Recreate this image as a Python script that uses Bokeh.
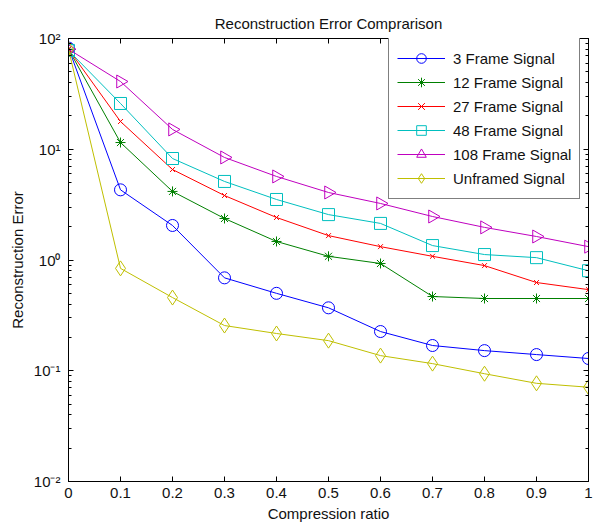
import numpy as np
from bokeh.plotting import figure
from bokeh.models import (LogAxis, LinearAxis, FixedTicker, CustomJSTickFormatter,
                          Legend, LegendItem, Range1d)
from bokeh.embed import file_html
from bokeh.resources import INLINE

ratio = [0.0, 0.1, 0.2, 0.3, 0.4, 0.5, 0.6, 0.7, 0.8, 0.9, 1.0]
frame3 = [82, 4.3, 2.05, 0.69, 0.50, 0.37, 0.226, 0.169, 0.152, 0.140, 0.129]
frame12 = [80, 11.5, 4.16, 2.37, 1.47, 1.08, 0.93, 0.468, 0.449, 0.449, 0.449]
frame27 = [80, 17.8, 6.56, 3.82, 2.42, 1.66, 1.32, 1.08, 0.89, 0.626, 0.54]
frame48 = [78, 25.9, 8.25, 5.12, 3.52, 2.57, 2.14, 1.35, 1.12, 1.05, 0.80]
frame108 = [80, 40.9, 15.1, 8.43, 5.68, 4.07, 3.24, 2.47, 1.97, 1.63, 1.32]
unframed = [80, 0.84, 0.458, 0.256, 0.217, 0.187, 0.137, 0.116, 0.094, 0.077, 0.071]

labels = ["3 Frame Signal", "12 Frame Signal", "27 Frame Signal",
          "48 Frame Signal", "108 Frame Signal", "Unframed Signal"]
x_ticks = [0.0, 0.1, 0.2, 0.3, 0.4, 0.5, 0.6, 0.7, 0.8, 0.9, 1.0]
y_ticks = [0.01, 0.1, 1, 10, 100]
title_text = "Reconstruction Error Comprarison"

FONT = "Liberation Sans"

p = figure(width=596, height=525, y_axis_type="log", output_backend="svg",
           toolbar_location=None, x_range=Range1d(0, 1), y_range=Range1d(0.01, 100),
           title=title_text,
           min_border_left=68, min_border_right=8, min_border_top=38, min_border_bottom=44)
p.grid.visible = False
p.background_fill_color = "white"
p.outline_line_color = "black"
p.outline_line_width = 1

p.title.text_font = FONT
p.title.text_font_size = "15px"
p.title.text_font_style = "normal"
p.title.align = "center"
p.title.vertical_align = "top"
p.title.text_color = "#111111"

minor = [m * 10.0 ** e for e in range(-2, 2) for m in range(2, 10)]
yticker = FixedTicker(ticks=y_ticks, minor_ticks=minor)
xticker = FixedTicker(ticks=x_ticks)

yfmt = CustomJSTickFormatter(code="""
const sup = {'-':'\u207b','0':'\u2070','1':'\u00b9','2':'\u00b2','3':'\u00b3'};
const e = Math.round(Math.log10(tick));
return '10' + String(e).split('').map(c => sup[c]).join('');
""")
xfmt = CustomJSTickFormatter(code="""
let s = tick.toFixed(1);
if (s.endsWith('.0')) s = s.slice(0, -2);
return s;
""")
blankfmt = CustomJSTickFormatter(code="return '';")

def style_axis(ax, show_labels):
    ax.axis_line_color = "black"
    ax.axis_line_width = 1
    ax.major_tick_in = 5
    ax.major_tick_out = 0
    ax.minor_tick_in = 3
    ax.minor_tick_out = 0
    ax.major_tick_line_color = "black"
    ax.minor_tick_line_color = "black"
    ax.major_label_text_font = FONT
    ax.major_label_text_color = "#111111"
    ax.major_label_text_font_size = "15px"
    ax.axis_label_text_font = FONT
    ax.axis_label_text_font_style = "normal"
    ax.axis_label_text_font_size = "15px"
    ax.axis_label_text_color = "#111111"
    if not show_labels:
        ax.formatter = blankfmt
        ax.major_label_standoff = 0

xa = p.xaxis[0]
xa.ticker = xticker
xa.formatter = xfmt
xa.axis_label = "Compression ratio"
style_axis(xa, True)
xa.major_label_standoff = 6
xa.axis_label_standoff = 4

ya = p.yaxis[0]
ya.ticker = yticker
ya.formatter = yfmt
ya.axis_label = "Reconstruction Error"
style_axis(ya, True)
ya.major_label_standoff = 8
ya.axis_label_standoff = 5

top = LinearAxis(ticker=xticker)
style_axis(top, False)
p.add_layout(top, "above")
right = LogAxis(ticker=yticker)
style_axis(right, False)
p.add_layout(right, "right")

series = [
    (frame3, "#0000ff", "circle", 12, 0),
    (frame12, "#008000", "asterisk", 10, 0),
    (frame27, "#ff0000", "x", 7, 0),
    (frame48, "#00bfbf", "square", 12, 0),
    (frame108, "#bf00bf", "triangle", 13, -np.pi / 2),
    (unframed, "#bfbf00", "diamond", 15, 0),
]

items = []
for (vals, color, marker, size, ang), lab in zip(series, labels):
    lr = p.line(ratio, vals, line_color=color, line_width=1)
    sr = p.scatter(ratio, vals, marker=marker, size=size, angle=ang,
                   line_color=color, fill_color=None, line_width=1)
    items.append(LegendItem(label=lab, renderers=[lr, sr]))

legend = Legend(items=items, location=(320, 282), glyph_width=48, glyph_height=24,
                label_height=20, label_standoff=8, spacing=0, padding=8,
                label_text_font=FONT, label_text_font_size="15px",
                label_text_color="#111111",
                border_line_color="black", border_line_width=1,
                background_fill_color="white", background_fill_alpha=1.0)
p.add_layout(legend, "center")

open("out.html", "w").write(file_html(p, INLINE))
